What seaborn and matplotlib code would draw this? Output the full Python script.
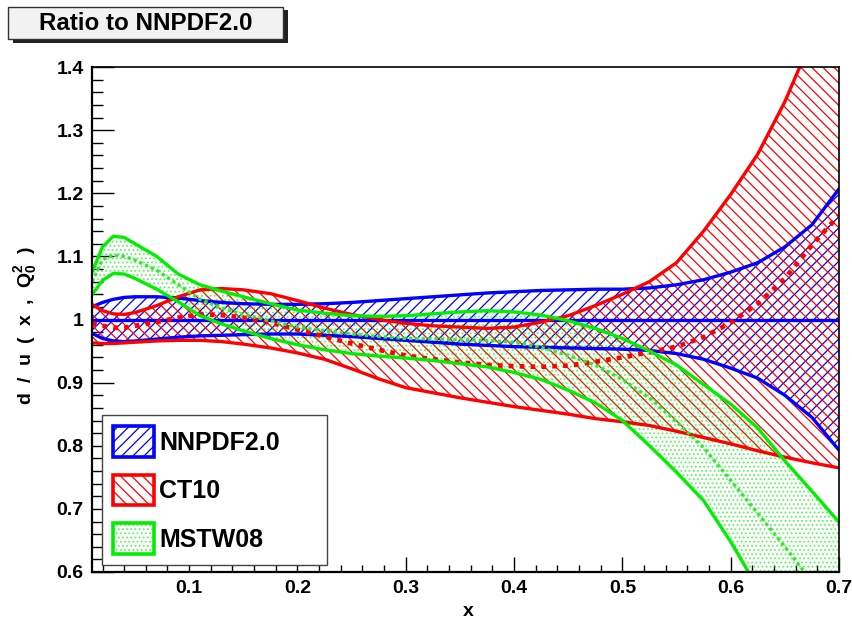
import matplotlib
matplotlib.use("Agg")
import matplotlib.pyplot as plt
import numpy as np
import pandas as pd
import seaborn as sns
from matplotlib.patches import Patch, Rectangle
from matplotlib.legend_handler import HandlerTuple
from matplotlib.ticker import MultipleLocator, FuncFormatter

# x grid shared by all PDF sets
x = [0.0103, 0.02, 0.03, 0.04, 0.05, 0.07, 0.09, 0.11, 0.13, 0.15, 0.175, 0.2,
     0.225, 0.25, 0.275, 0.3, 0.325, 0.35, 0.375, 0.4, 0.425, 0.45, 0.475, 0.5,
     0.525, 0.55, 0.575, 0.6, 0.625, 0.65, 0.675, 0.7]

# NNPDF2.0 (reference set: central value is 1 by construction)
nnpdf_central = [1.0] * len(x)
nnpdf_up = [1.020, 1.027, 1.032, 1.035, 1.036, 1.036, 1.034, 1.030, 1.027, 1.025,
            1.024, 1.024, 1.025, 1.027, 1.030, 1.033, 1.036, 1.039, 1.042, 1.044,
            1.046, 1.047, 1.048, 1.048, 1.050, 1.055, 1.063, 1.075, 1.090, 1.115,
            1.150, 1.207]
nnpdf_lo = [0.978, 0.970, 0.966, 0.965, 0.966, 0.969, 0.972, 0.974, 0.975, 0.976,
            0.977, 0.977, 0.975, 0.973, 0.970, 0.967, 0.964, 0.961, 0.959, 0.957,
            0.956, 0.955, 0.954, 0.953, 0.951, 0.946, 0.937, 0.923, 0.907, 0.880,
            0.845, 0.793]

# CT10
ct10_central = [0.994, 0.990, 0.987, 0.987, 0.990, 0.996, 1.003, 1.008, 1.007, 1.003,
                0.995, 0.984, 0.973, 0.962, 0.952, 0.943, 0.937, 0.932, 0.928, 0.926,
                0.925, 0.927, 0.933, 0.940, 0.948, 0.957, 0.972, 0.995, 1.025, 1.065,
                1.118, 1.165]
ct10_up = [1.024, 1.014, 1.009, 1.008, 1.011, 1.022, 1.036, 1.047, 1.049, 1.047,
           1.041, 1.030, 1.018, 1.008, 1.000, 0.994, 0.990, 0.988, 0.986, 0.988,
           0.996, 1.006, 1.022, 1.040, 1.060, 1.090, 1.140, 1.198, 1.262, 1.345,
           1.445, 1.560]
ct10_lo = [0.963, 0.962, 0.962, 0.963, 0.964, 0.966, 0.967, 0.967, 0.965, 0.961,
           0.955, 0.947, 0.937, 0.922, 0.906, 0.892, 0.884, 0.876, 0.869, 0.862,
           0.856, 0.850, 0.843, 0.838, 0.832, 0.823, 0.813, 0.803, 0.792, 0.782,
           0.773, 0.765]

# MSTW08
mstw_central = [1.060, 1.095, 1.102, 1.100, 1.094, 1.078, 1.055, 1.032, 1.018, 1.008,
                0.998, 0.988, 0.982, 0.977, 0.973, 0.970, 0.969, 0.968, 0.967, 0.964,
                0.956, 0.943, 0.928, 0.905, 0.876, 0.838, 0.797, 0.745, 0.693, 0.640,
                0.585, 0.530]
mstw_up = [1.075, 1.115, 1.132, 1.130, 1.120, 1.100, 1.072, 1.055, 1.045, 1.036,
           1.025, 1.015, 1.010, 1.006, 1.005, 1.006, 1.009, 1.012, 1.014, 1.012,
           1.007, 0.998, 0.986, 0.970, 0.950, 0.928, 0.897, 0.866, 0.828, 0.776,
           0.728, 0.679]
mstw_lo = [1.039, 1.062, 1.073, 1.072, 1.065, 1.048, 1.028, 1.006, 0.993, 0.982,
           0.970, 0.960, 0.952, 0.946, 0.942, 0.939, 0.935, 0.930, 0.925, 0.916,
           0.905, 0.888, 0.868, 0.840, 0.800, 0.758, 0.713, 0.648, 0.575, 0.500,
           0.420, 0.330]

set_names = ["NNPDF2.0", "CT10", "MSTW08"]
set_colors = ["#0000ff", "#ff0000", "#00ee00"]
set_hatches = ["///", "\\\\\\", "...."]
hatch_alpha = [1.0, 1.0, 0.55]
x_ticks = [0.1, 0.2, 0.3, 0.4, 0.5, 0.6, 0.7]
y_ticks = [0.6, 0.7, 0.8, 0.9, 1.0, 1.1, 1.2, 1.3, 1.4]

sns.set_theme(style="ticks")
plt.rcParams["font.family"] = ["Liberation Sans", "DejaVu Sans"]
plt.rcParams["font.weight"] = "bold"
plt.rcParams["mathtext.fontset"] = "custom"
plt.rcParams["mathtext.rm"] = "Liberation Sans:bold"
plt.rcParams["mathtext.it"] = "Liberation Sans:bold"
plt.rcParams["mathtext.bf"] = "Liberation Sans:bold"
plt.rcParams["hatch.linewidth"] = 0.9
for key in ["text.color", "axes.labelcolor", "xtick.color", "ytick.color",
            "axes.edgecolor"]:
    plt.rcParams[key] = "black"

W, H = 852, 622
fig = plt.figure(figsize=(W / 100, H / 100), dpi=100)
fig.patch.set_facecolor("white")
ax = fig.add_axes([92 / W, 1 - 572 / H, (839 - 92) / W, (572 - 67) / H])
ax.set_facecolor("white")

bands = [
    (nnpdf_lo, nnpdf_up, nnpdf_central),
    (ct10_lo, ct10_up, ct10_central),
    (mstw_lo, mstw_up, mstw_central),
]
central_style = {
    "NNPDF2.0": dict(color="#0000ff", lw=2.4, linestyle="-"),
    "CT10": dict(color="#ff0000", lw=3.4, linestyle=(0, (1, 1.3))),
    "MSTW08": dict(color="#33e833", lw=2.4, linestyle=(0, (1, 0.9))),
}

for (lo, up, cen), name, col, hat, ha in zip(bands, set_names, set_colors,
                                             set_hatches, hatch_alpha):
    ax.fill_between(x, lo, up, facecolor="none", edgecolor=col, hatch=hat,
                    linewidth=0, alpha=ha)
    df = pd.DataFrame({"x": x, "lo": lo, "up": up, "cen": cen})
    sns.lineplot(data=df, x="x", y="lo", ax=ax, color=col, lw=2.4, sort=False, estimator=None)
    sns.lineplot(data=df, x="x", y="up", ax=ax, color=col, lw=2.4, sort=False, estimator=None)
    sns.lineplot(data=df, x="x", y="cen", ax=ax, sort=False, estimator=None,
                 dash_capstyle="butt", **central_style[name])

ax.set_xlim(0.0103, 0.7)
ax.set_ylim(0.6, 1.4)
ax.set_xlabel("")
ax.set_ylabel("")
ax.set_xticks(x_ticks)
ax.set_yticks(y_ticks)
ax.xaxis.set_minor_locator(MultipleLocator(0.02))
ax.yaxis.set_minor_locator(MultipleLocator(0.02))
ax.yaxis.set_major_formatter(FuncFormatter(lambda v, p: f"{v:g}"))
ax.xaxis.set_major_formatter(FuncFormatter(lambda v, p: f"{v:g}"))
ax.tick_params(axis="x", which="major", direction="in", length=10.5, width=1.0,
               labelsize=14, pad=6, top=False, colors="black")
ax.tick_params(axis="x", which="minor", direction="in", length=5.3, width=1.0, top=False,
               colors="black")
ax.tick_params(axis="y", which="major", direction="in", length=16, width=1.0,
               labelsize=14, pad=6, right=False, colors="black")
ax.tick_params(axis="y", which="minor", direction="in", length=8, width=1.0, right=False,
               colors="black")
for lab in ax.get_xticklabels() + ax.get_yticklabels():
    lab.set_fontweight("bold")
for side in ["left", "bottom"]:
    ax.spines[side].set_linewidth(1.6)
for side in ["top", "right"]:
    ax.spines[side].set_linewidth(1.2)
    ax.spines[side].set_visible(True)
for side in ax.spines:
    ax.spines[side].set_color("black")
ax.set_zorder(2)

# axis titles
fig.text(468 / W, 1 - 611 / H, "x", ha="center", va="center", fontsize=14,
         fontweight="bold", color="black")
fig.text(26 / W, 1 - 326 / H, r"d  /  u  (  x  ,  Q$_{0}^{2}$  )", rotation=90,
         ha="center", va="center", fontsize=14, fontweight="bold", color="black")

# legend: hatched swatch overlaid with a solid coloured border
handles = []
for c, h, ha in zip(set_colors, set_hatches, hatch_alpha):
    swatch = Patch(facecolor="none", edgecolor=c, hatch=h, linewidth=0, alpha=ha)
    border = Patch(facecolor="none", edgecolor=c, linewidth=2.6)
    handles.append((swatch, border))
leg = ax.legend(handles, set_names, loc="lower left",
                bbox_to_anchor=(10 / 747, 7 / 505, 225 / 747, 0.3), mode="expand",
                handler_map={tuple: HandlerTuple(ndivide=1, pad=0)},
                prop={"family": "Liberation Sans", "weight": "bold", "size": 18},
                handlelength=1.64, handleheight=1.5, labelspacing=0.72,
                handletextpad=0.2, borderpad=0.45, borderaxespad=0.0,
                frameon=True, fancybox=False, shadow=False)
leg.get_frame().set_edgecolor("#444444")
leg.get_frame().set_linewidth(1.0)
leg.get_frame().set_facecolor("white")
leg.get_frame().set_alpha(1.0)
for t in leg.get_texts():
    t.set_color("black")

# title box with drop shadow
fig.patches.append(Rectangle((13 / W, 1 - 43 / H), 275 / W, 33 / H, transform=fig.transFigure,
                             facecolor="#222222", edgecolor="none", zorder=5))
fig.patches.append(Rectangle((8 / W, 1 - 39 / H), 275 / W, 32 / H, transform=fig.transFigure,
                             facecolor="#f2f2f2", edgecolor="#333333", linewidth=1.0, zorder=6))
fig.text(145.5 / W, 1 - 23.5 / H, "Ratio to NNPDF2.0", ha="center", va="center",
         fontsize=17.4, fontweight="bold", color="black", zorder=7)

fig.savefig("out.png", dpi=100)
